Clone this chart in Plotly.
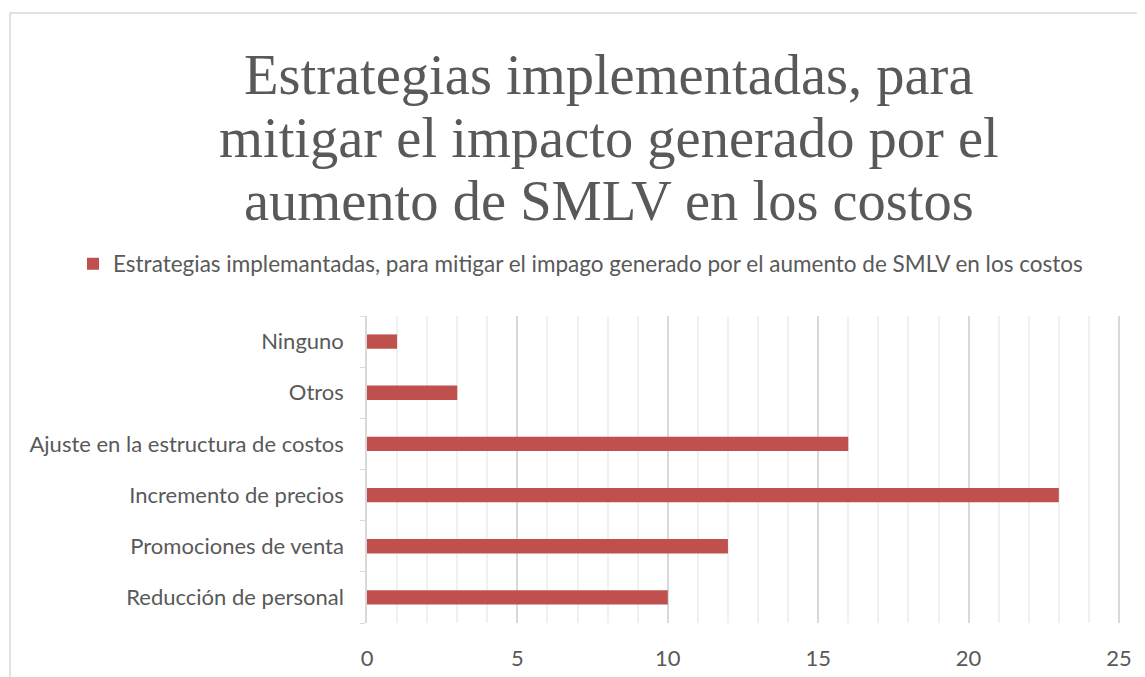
import plotly.graph_objects as go

categories = ["Reducción de personal", "Promociones de venta", "Incremento de precios",
              "Ajuste en la estructura de costos", "Otros", "Ninguno"]
values = [10, 12, 23, 16, 3, 1]
series_name = "Estrategias implemantadas, para mitigar el impago generado por el aumento de SMLV en los costos"
title_lines = ["Estrategias implementadas, para",
               "mitigar el impacto generado por el",
               "aumento de SMLV en los costos"]
x_ticks = [0, 5, 10, 15, 20, 25]

OFF = 8  # page body margin
W, H = 1145, 677
L, R, T, B = 367 - OFF, 31, 316 - OFF, 62
pw, ph = W - L - R, H - T - B


def px_x(p):
    return (p - OFF - L) / pw


def px_y(p):
    return (H - B - (p - OFF)) / ph


fig = go.Figure()
fig.add_trace(go.Bar(
    y=categories, x=values, orientation="h", name=series_name,
    marker=dict(color="#c0504d", line=dict(width=0)),
    showlegend=True,
))

title_centers = [75, 138, 201]
annotations = [
    dict(text=t, xref="paper", yref="paper", x=px_x(609), y=px_y(yc),
         xanchor="center", yanchor="middle", showarrow=False,
         font=dict(family="Liberation Serif, serif", size=56.5, color="#595959"))
    for t, yc in zip(title_lines, title_centers)
]

fig.update_layout(
    width=W, height=H,
    margin=dict(l=L, r=R, t=T, b=B),
    paper_bgcolor="white", plot_bgcolor="white",
    bargap=0.72,
    font=dict(family="Lato, Open Sans, sans-serif", size=22, color="#595959"),
    annotations=annotations,
    legend=dict(
        orientation="h", x=px_x(73), xanchor="left", y=px_y(264), yanchor="middle",
        font=dict(size=22.5, color="#595959"), bgcolor="rgba(0,0,0,0)",
    ),
    xaxis=dict(
        range=[0, 25.1], tickvals=x_ticks, ticktext=[str(v) for v in x_ticks],
        showgrid=True, gridcolor="#d9d9d9", gridwidth=1.5,
        minor=dict(dtick=1, showgrid=True, gridcolor="#f0f0f0", gridwidth=1.5, tick0=0),
        zeroline=False, showline=False, ticks="", ticklabelstandoff=20,
        tickfont=dict(size=22, color="#595959"),
    ),
    yaxis=dict(
        showgrid=False, zeroline=False, showline=True, linecolor="#d9d9d9", linewidth=1.5,
        ticks="outside", ticklen=5, tickcolor="#d9d9d9", tickson="boundaries",
        ticklabelstandoff=17, tickfont=dict(size=22, color="#595959"),
        range=[-0.5, 5.5],
    ),
    shapes=[dict(
        type="rect", xref="paper", yref="paper",
        x0=px_x(10), x1=px_x(1170), y0=px_y(700), y1=px_y(13),
        line=dict(color="#d9d9d9", width=1.5), fillcolor="rgba(0,0,0,0)", layer="below",
    )],
)

fig.write_html("out.html")
